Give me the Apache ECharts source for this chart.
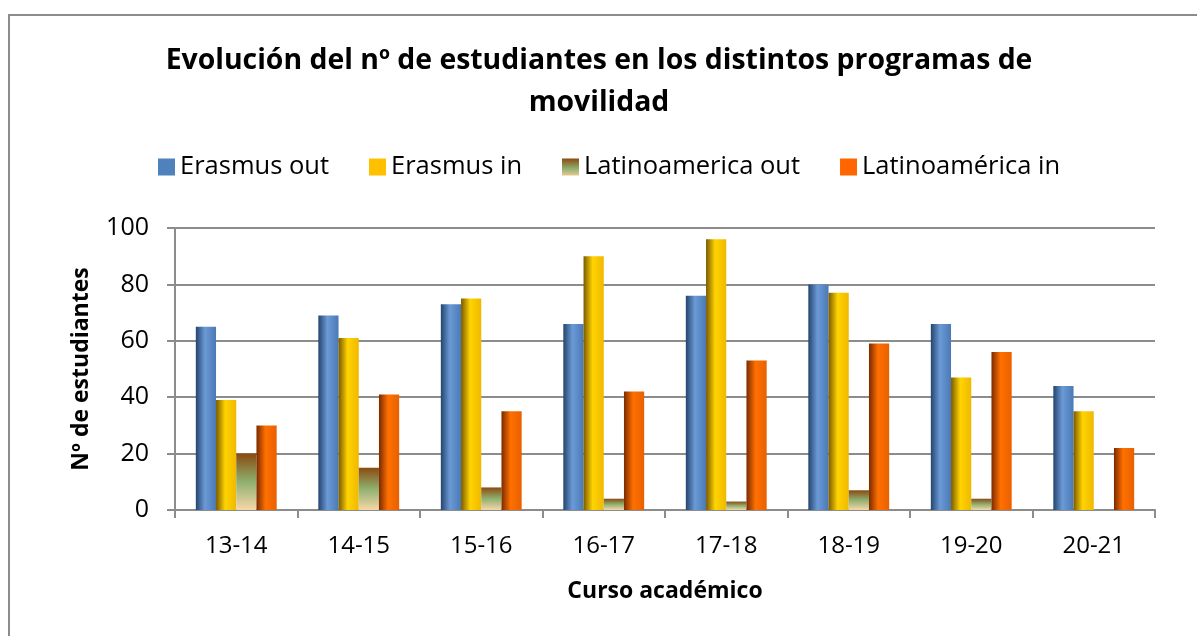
<!DOCTYPE html>
<html><head><meta charset="utf-8">
<script src="https://cdn.jsdelivr.net/npm/echarts@6/dist/echarts.min.js"></script>
<style>
html,body{margin:0;padding:0;background:#fff;overflow:hidden}
#frame{position:absolute;left:8px;top:14px;width:1400px;height:800px;border-left:2px solid #8c8c8c;border-top:2px solid #8c8c8c;box-sizing:border-box}
#c{position:absolute;left:0;top:0;width:1197px;height:636px}
</style></head>
<body><div id="frame"></div><div id="c"></div>
<script>
const categories = ['13-14','14-15','15-16','16-17','17-18','18-19','19-20','20-21'];
const erasmusOut = [65, 69, 73, 66, 76, 80, 66, 44];
const erasmusIn = [39, 61, 75, 90, 96, 77, 47, 35];
const latamOut = [20, 15, 8, 4, 3, 7, 4, 0];
const latamIn = [30, 41, 35, 42, 53, 59, 56, 22];
const seriesNames = ['Erasmus out','Erasmus in','Latinoamerica out','Latinoamérica in'];

function hgrad(dark, light, mid){
  return new echarts.graphic.LinearGradient(0,0,1,0,[
    {offset:0,color:dark},{offset:0.45,color:light},{offset:1,color:mid}]);
}
const font = "'Open Sans', 'Liberation Sans', sans-serif";
const chart = echarts.init(document.getElementById('c'), null, {renderer:'canvas'});
const latamOutGrad = new echarts.graphic.LinearGradient(0,0,0,1,[
  {offset:0,color:'#8a4a10'},{offset:0.5,color:'#8fb070'},{offset:1,color:'#f6d7a8'}]);
chart.setOption({
  animation:false,
  title:{
    text:'Evolución del nº de estudiantes en los distintos programas de\nmovilidad',
    left:594, top:35, textAlign:'center',
    textStyle:{fontFamily:font,fontSize:28.4,fontWeight:'bold',color:'#000',lineHeight:42}
  },
  legend:{
    top:149, left:153, itemWidth:17, itemHeight:17, itemGap:40, icon:'rect',
    textStyle:{fontFamily:font,fontSize:25.5,color:'#000'},
    data:[
      {name:seriesNames[0],itemStyle:{color:'#4f81bd'}},
      {name:seriesNames[1],itemStyle:{color:'#ffc000'}},
      {name:seriesNames[2],itemStyle:{color:new echarts.graphic.LinearGradient(0,0,0,1,[{offset:0,color:'#8a4a10'},{offset:0.6,color:'#8fb070'},{offset:1,color:'#e8c890'}])}},
      {name:seriesNames[3],itemStyle:{color:'#ff6600'}}
    ]
  },
  grid:{left:175,right:42,top:228,bottom:126,containLabel:false},
  xAxis:{
    type:'category', data:categories,
    name:'Curso académico', nameLocation:'middle', nameGap:70,
    nameTextStyle:{fontFamily:font,fontSize:23,fontWeight:'bold',color:'#000'},
    axisLine:{lineStyle:{color:'#8c8c8c',width:2}},
    axisTick:{show:true,length:8,lineStyle:{color:'#8c8c8c',width:2}},
    axisLabel:{fontFamily:font,fontSize:24,color:'#000',margin:24}
  },
  yAxis:{
    type:'value', min:0, max:100, interval:20,
    name:'Nº de estudiantes', nameLocation:'middle', nameGap:82, nameRotate:90,
    nameTextStyle:{fontFamily:font,fontSize:23,fontWeight:'bold',color:'#000'},
    axisLine:{show:true,lineStyle:{color:'#8c8c8c',width:2}},
    axisTick:{show:true,length:8,lineStyle:{color:'#8c8c8c',width:2}},
    axisLabel:{fontFamily:font,fontSize:25,color:'#000',margin:26},
    splitLine:{lineStyle:{color:'#8c8c8c',width:2}}
  },
  series:[
    {name:seriesNames[0],type:'bar',data:erasmusOut,barGap:'0%',barCategoryGap:'34%',
     itemStyle:{color:hgrad('#24446e','#6b9ad6','#4a79b6')}},
    {name:seriesNames[1],type:'bar',data:erasmusIn,
     itemStyle:{color:hgrad('#7a5a00','#ffd400','#f0b800')}},
    {name:seriesNames[2],type:'bar',data:latamOut,
     itemStyle:{color:latamOutGrad}},
    {name:seriesNames[3],type:'bar',data:latamIn,
     itemStyle:{color:hgrad('#7a2a00','#ff7000','#e86000')}}
  ]
});
</script></body></html>
